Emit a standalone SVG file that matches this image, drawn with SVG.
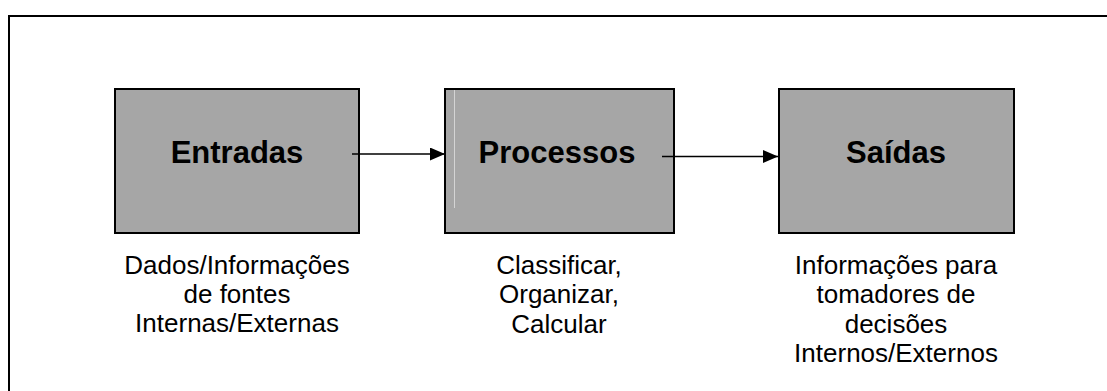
<svg xmlns="http://www.w3.org/2000/svg" width="1107" height="391" viewBox="0 0 1107 391">
  <style>
    .frame { fill: none; stroke: #000; stroke-width: 2; }
    .box { fill: #a6a6a6; stroke: #000; stroke-width: 2; }
    .title { font-family: "Liberation Sans", Arial, sans-serif; font-weight: bold; font-size: 31px; fill: #000; text-anchor: middle; }
    .label { font-family: "Liberation Sans", Arial, sans-serif; font-size: 26px; fill: #000; text-anchor: middle; }
    .conn { fill: none; stroke: #000; }
  </style>
  <defs>
    <marker id="arrow" viewBox="0 0 15 13" refX="15" refY="6.5" markerWidth="15" markerHeight="13" markerUnits="userSpaceOnUse" orient="auto">
      <path d="M0,0 L15,6.5 L0,13 Z" fill="#000"/>
    </marker>
  </defs>

  <rect width="1107" height="391" fill="#fff"/>

  <!-- outer frame (open at right and bottom) -->
  <path class="frame" d="M9,391 V16 H1107"/>

  <g id="entradas">
    <rect class="box" x="115" y="89" width="244" height="144"/>
    <text class="title" x="237" y="163">Entradas</text>
    <text class="label" x="237" y="273.5">Dados/Informações</text>
    <text class="label" x="237" y="302.5">de fontes</text>
    <text class="label" x="237" y="331.5">Internas/Externas</text>
  </g>

  <g id="processos">
    <rect class="box" x="445" y="89" width="229" height="144"/>
    <line x1="454.5" y1="90" x2="454.5" y2="208" stroke="#d4d4d4" stroke-width="1"/>
    <text class="title" x="557" y="163">Processos</text>
    <text class="label" x="559" y="273.5">Classificar,</text>
    <text class="label" x="559" y="303">Organizar,</text>
    <text class="label" x="559" y="332.5">Calcular</text>
  </g>

  <g id="saidas">
    <rect class="box" x="779" y="89" width="235" height="144"/>
    <text class="title" x="896" y="163">Saídas</text>
    <text class="label" x="896" y="273.5">Informações para</text>
    <text class="label" x="896" y="303">tomadores de</text>
    <text class="label" x="896" y="332.5">decisões</text>
    <text class="label" x="896" y="362">Internos/Externos</text>
  </g>

  <g id="connectors">
    <line class="conn" x1="352" y1="154" x2="445" y2="154" stroke-width="1.7" marker-end="url(#arrow)"/>
    <line class="conn" x1="662" y1="156.5" x2="778" y2="156.5" stroke-width="1.3" marker-end="url(#arrow)"/>
  </g>
</svg>
